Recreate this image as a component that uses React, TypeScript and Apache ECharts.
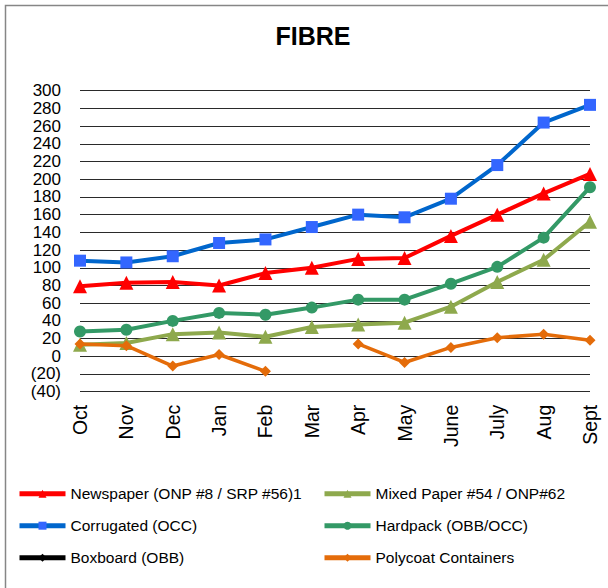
import React, { useEffect, useRef } from "react";
import * as echarts from "echarts";

const months = ["Oct", "Nov", "Dec", "Jan", "Feb", "Mar", "Apr", "May", "June", "July", "Aug", "Sept"];
const newspaper = [79, 83, 84, 80, 94, 100, 110, 111, 136, 160, 184, 206];
const mixedPaper = [13, 15, 25, 27, 22, 33, 36, 38, 56, 84, 109, 152];
const corrugated = [108, 106, 113, 128, 132, 146, 160, 157, 178, 216, 264, 284];
const hardpack = [28, 30, 40, 49, 47, 55, 64, 64, 82, 101, 134, 191];
const boxboard: (number | null)[] = [null, null, null, null, null, null, null, null, null, null, null, null];
const polycoat: (number | null)[] = [14, 12, -11, 2, -17, null, 14, -7, 10, 21, 25, 18];
const yMin = -40;
const yMax = 300;
const yStep = 20;

const FONT = "Liberation Sans, Arial, sans-serif";

export default function App() {
  const ref = useRef<HTMLDivElement>(null);
  useEffect(() => {
    document.body.style.margin = "0";
    if (!ref.current) return;
    const chart = echarts.init(ref.current, null, { renderer: "svg" });
    const legendText = { fontFamily: FONT, fontSize: 15.5, color: "#000", lineHeight: 14 };
    const legendBase = {
      top: 485.7,
      padding: 0,
      orient: "vertical",
      itemWidth: 46,
      itemHeight: 10,
      itemGap: 16,
      textStyle: legendText,
      lineStyle: { width: 5 },
    };
    chart.setOption({
      animation: false,
      backgroundColor: "#fff",
      textStyle: { fontFamily: FONT },
      graphic: [
        {
          type: "rect",
          shape: { x: 5.5, y: 5.5, width: 800, height: 800 },
          style: { fill: "none", stroke: "#868686", lineWidth: 1.5 },
          silent: true,
        },
        {
          type: "text",
          x: 313,
          y: 36,
          style: {
            text: "FIBRE",
            fontFamily: FONT,
            fontSize: 25,
            fontWeight: "bold",
            fill: "#000",
            textAlign: "center",
            textVerticalAlign: "middle",
          },
        },
      ],
      grid: { left: 80, right: 18, top: 90.7, bottom: 196.3 },
      legend: [
        {
          ...legendBase,
          left: 17,
          data: ["Newspaper (ONP #8 / SRP #56)1", "Corrugated (OCC)", "Boxboard (OBB)"],
        },
        {
          ...legendBase,
          left: 322,
          data: ["Mixed Paper #54 / ONP#62", "Hardpack (OBB/OCC)", "Polycoat Containers"],
        },
      ],
      xAxis: {
        type: "category",
        data: months,
        boundaryGap: false,
        axisLine: { show: false },
        axisTick: { show: false },
        axisLabel: { rotate: 90, margin: 13, fontSize: 19.5, color: "#000", fontFamily: FONT, interval: 0 },
        splitLine: { show: false },
      },
      yAxis: {
        type: "value",
        min: yMin,
        max: yMax,
        interval: yStep,
        axisLine: { show: false },
        axisTick: { show: false },
        axisLabel: {
          margin: 19,
          fontSize: 17,
          color: "#000",
          fontFamily: FONT,
          formatter: (v: number) => (v < 0 ? `(${-v})` : `${v}`),
        },
        splitLine: { show: true, lineStyle: { color: "#2a2a2a", width: 1 } },
      },
      series: [
        {
          name: "Newspaper (ONP #8 / SRP #56)1",
          type: "line",
          data: newspaper,
          symbol: "triangle",
          symbolSize: 14,
          lineStyle: { color: "#FF0000", width: 4 },
          itemStyle: { color: "#FF0000" },
          z: 5,
        },
        {
          name: "Mixed Paper #54 / ONP#62",
          type: "line",
          data: mixedPaper,
          symbol: "triangle",
          symbolSize: 14,
          lineStyle: { color: "#8EA94D", width: 4 },
          itemStyle: { color: "#8EA94D" },
          z: 2,
        },
        {
          name: "Corrugated (OCC)",
          type: "line",
          data: corrugated,
          symbol: "rect",
          symbolSize: 12,
          lineStyle: { color: "#0066CC", width: 4 },
          itemStyle: { color: "#3366FF" },
          z: 4,
        },
        {
          name: "Hardpack (OBB/OCC)",
          type: "line",
          data: hardpack,
          symbol: "circle",
          symbolSize: 12,
          lineStyle: { color: "#339966", width: 4 },
          itemStyle: { color: "#339966" },
          z: 3,
        },
        {
          name: "Boxboard (OBB)",
          type: "line",
          data: boxboard,
          symbol: "diamond",
          symbolSize: 8,
          lineStyle: { color: "#000000", width: 4 },
          itemStyle: { color: "#000000" },
        },
        {
          name: "Polycoat Containers",
          type: "line",
          data: polycoat,
          connectNulls: false,
          symbol: "diamond",
          symbolSize: 11,
          lineStyle: { color: "#E46C0A", width: 3.5 },
          itemStyle: { color: "#E46C0A" },
          z: 6,
        },
      ],
    });
    return () => chart.dispose();
  }, []);
  return <div ref={ref} style={{ width: 608, height: 588 }} />;
}
